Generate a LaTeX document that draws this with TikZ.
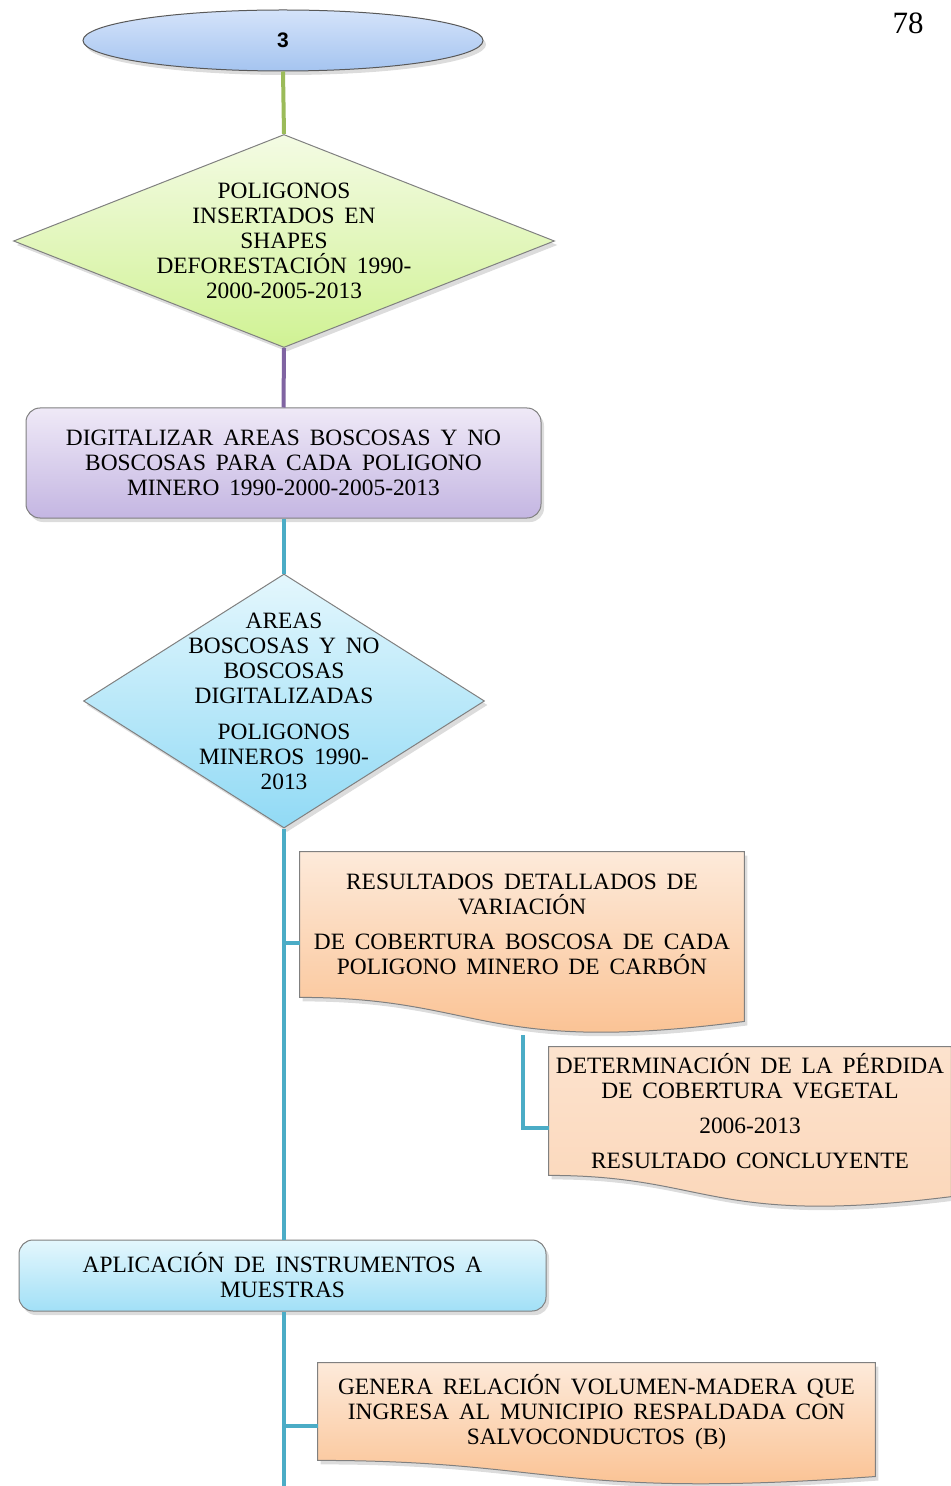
\documentclass[tikz,border=0pt]{standalone}
\usepackage{fontspec}
\setmainfont{Liberation Serif}
\newfontfamily\numsans{Liberation Sans}
\usetikzlibrary{shapes.geometric,shadows,backgrounds,calc}

\definecolor{edgegray}{RGB}{128,128,128}
\definecolor{linkgreen}{RGB}{155,187,89}
\definecolor{linkpurple}{RGB}{128,100,162}
\definecolor{linkteal}{RGB}{75,172,198}
\definecolor{ovaltop}{RGB}{212,227,250}
\definecolor{ovalbot}{RGB}{165,196,240}
\definecolor{greentop}{RGB}{244,251,228}
\definecolor{greenbot}{RGB}{208,242,148}
\definecolor{lilactop}{RGB}{239,233,247}
\definecolor{lilacbot}{RGB}{196,182,226}
\definecolor{skytop}{RGB}{228,247,253}
\definecolor{skybot}{RGB}{145,218,245}
\definecolor{peachtop}{RGB}{253,234,218}
\definecolor{peachbot}{RGB}{250,190,140}
\definecolor{peachmid}{RGB}{251,214,184}

\tikzset{
  outline/.style={draw=edgegray, line width=0.5pt},
  softshadow/.style={drop shadow={opacity=0.28, shadow xshift=1.5pt, shadow yshift=-2pt}},
  txt/.style={align=center, inner sep=0pt,
    font=\fontsize{11.7}{12.5}\selectfont,
    execute at begin node={\spaceskip=0.42em plus 0.1em minus 0.05em}},
  link/.style={line width=2pt, line cap=butt},
  decision/.style={diamond, outline, softshadow, inner sep=0pt},
  stepbox/.style={rectangle, rounded corners=7pt, outline, softshadow, txt},
  docbox/.style={rectangle, txt},
  docpaper/.style={outline, softshadow}
}

% wavy-bottomed document outline built from the anchors of a text node
\newcommand{\paperpath}[1]{%
  (#1.north west) -- (#1.north east)
  -- ($(#1.north east)!1.1646!(#1.south east)$)
  .. controls ($(#1.north)!1.40!(#1.south)+(-40,0)$) and ($(#1.south)+(-40,0)$) ..
  (#1.south west) -- cycle}

\begin{document}
\begin{tikzpicture}[x=0.5pt, y=-0.5pt]
\useasboundingbox (0,0) rectangle (950,1486);

% page number
\node[font=\fontsize{15.5}{17}\selectfont, inner sep=0pt] (pageno) at (908,23) {78};

% start connector oval
\node[ellipse, draw=black!65, line width=0.5pt, softshadow,
      top color=ovaltop, bottom color=ovalbot,
      minimum width=200pt, minimum height=30.5pt, inner sep=0pt,
      font=\numsans\bfseries\fontsize{10.5}{12}\selectfont] (start) at (283,40.5) {3};

% green decision
\node[decision, top color=greentop, bottom color=greenbot,
      minimum width=270.5pt, minimum height=106.5pt] (d1) at (284,241) {};
\node[txt] (d1t) at (d1.center) {POLIGONOS\\INSERTADOS EN\\SHAPES\\DEFORESTACIÓN 1990-\\2000-2005-2013};

% lilac process
\node[stepbox, top color=lilactop, bottom color=lilacbot,
      minimum width=257.5pt, minimum height=55pt] (r1) at (283.5,463)
  {DIGITALIZAR AREAS BOSCOSAS Y NO\\BOSCOSAS PARA CADA POLIGONO\\MINERO 1990-2000-2005-2013};

% blue decision
\node[decision, top color=skytop, bottom color=skybot,
      minimum width=200.5pt, minimum height=127pt] (d2) at (284,701) {};
\node[txt] (d2t) at (d2.center)
  {AREAS\\BOSCOSAS Y NO\\BOSCOSAS\\DIGITALIZADAS\\[5.5pt]POLIGONOS\\MINEROS 1990-\\2013};

% documents (text areas)
\node[docbox, minimum width=222pt, minimum height=72.5pt] (doc1) at (522,924.5)
  {RESULTADOS DETALLADOS DE\\VARIACIÓN\\[5pt]DE COBERTURA BOSCOSA DE CADA\\POLIGONO MINERO DE CARBÓN};
\node[docbox, minimum width=201pt, minimum height=64pt] (doc2) at (750,1111)
  {DETERMINACIÓN DE LA PÉRDIDA\\DE COBERTURA VEGETAL\\[5pt]2006-2013\\[5pt]RESULTADO CONCLUYENTE};
\node[docbox, minimum width=278.5pt, minimum height=48.5pt] (doc3) at (596.5,1411.5)
  {GENERA RELACIÓN VOLUMEN-MADERA QUE\\INGRESA AL MUNICIPIO RESPALDADA CON\\SALVOCONDUCTOS (B)};

% blue process
\node[stepbox, top color=skytop, bottom color=skybot!85!white,
      minimum width=263.5pt, minimum height=35.5pt] (r2) at (282.5,1275.5)
  {APLICACIÓN DE INSTRUMENTOS A\\MUESTRAS};

% document paper shapes behind their text
\begin{scope}[on background layer]
  \path[docpaper, top color=peachtop, bottom color=peachbot] \paperpath{doc1};
  \path[docpaper, top color=peachmid!70!white, bottom color=peachmid] \paperpath{doc2};
  \path[docpaper, top color=peachtop, bottom color=peachbot] \paperpath{doc3};
\end{scope}

% junction points
\coordinate (j1) at (284,943);
\coordinate (j2) at (523,1035);
\coordinate (j3) at (284,1426);
\coordinate (tail) at (284,1486);

% connectors
\draw[link, linkgreen] (start.south) -- (d1.north);
\draw[link, linkpurple] (d1.south) -- (r1.north);
\draw[link, linkteal] (r1.south -| d2.north) -- (d2.north);
\draw[link, linkteal] (d2.south) -- (d2.south |- r2.north);
\draw[link, linkteal] (j1) -- (j1 -| doc1.west);
\draw[link, linkteal] (j2) |- ([yshift=-8.5pt]doc2.west);
\draw[link, linkteal] (r2.south -| tail) -- (tail);
\draw[link, linkteal] (j3) -- (j3 -| doc3.west);
\end{tikzpicture}
\end{document}
